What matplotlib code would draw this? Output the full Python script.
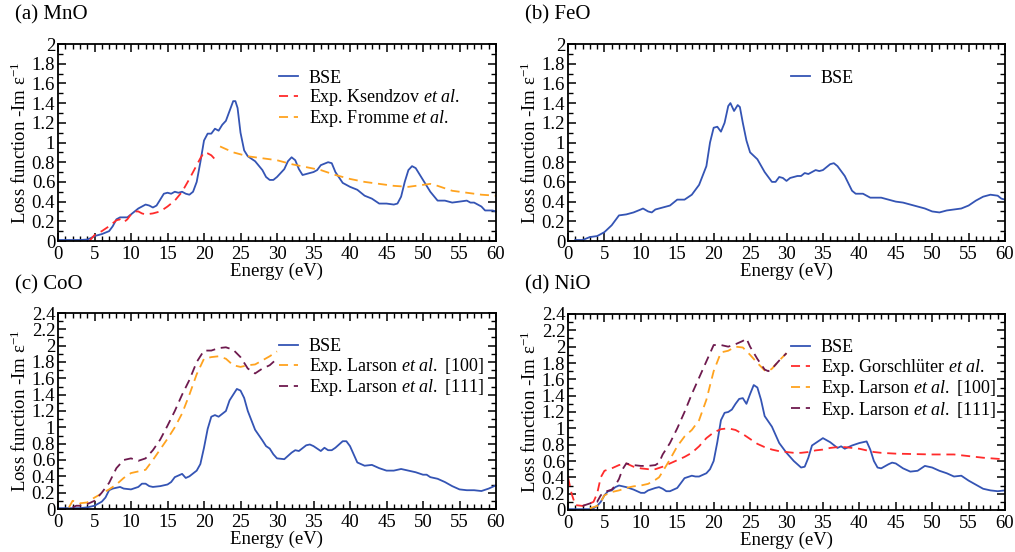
import matplotlib
matplotlib.use("Agg")
import matplotlib.pyplot as plt
from matplotlib.ticker import MultipleLocator, FuncFormatter

plt.rcParams['font.family'] = ['Liberation Serif', 'DejaVu Serif']
plt.rcParams['mathtext.fontset'] = 'custom'
plt.rcParams['mathtext.rm'] = 'Liberation Serif'
plt.rcParams['mathtext.it'] = 'Liberation Serif:italic'

# ---------------- data ----------------
# (a) MnO
mno_bse_e = [0, 1, 2, 3, 4, 4.5, 5, 6, 7, 7.5, 8, 8.5, 9, 9.5, 10, 11, 12, 12.5, 13, 13.5, 14, 14.5, 15,
             15.5, 16, 16.5, 17, 17.5, 18, 18.5, 19, 19.5, 20, 20.5, 21, 21.5, 22, 22.5, 23, 23.5, 24, 24.3,
             24.6, 25, 25.5, 26, 27, 28, 28.5, 29, 29.5, 30, 31, 31.5, 32, 32.5, 33, 33.5, 34, 35, 35.5, 36,
             37, 37.5, 38, 39, 40, 41, 42, 43, 44, 45, 46, 46.5, 47, 47.5, 48, 48.5, 49, 50, 51, 52, 53, 54,
             55, 56, 56.5, 57, 58, 58.5, 59, 59.5, 60]
mno_bse_l = [0.01, 0.01, 0.01, 0.01, 0.015, 0.03, 0.05, 0.07, 0.1, 0.15, 0.22, 0.24, 0.24, 0.24, 0.27, 0.33,
             0.37, 0.36, 0.34, 0.36, 0.42, 0.48, 0.49, 0.48, 0.50, 0.49, 0.50, 0.48, 0.47, 0.50, 0.60, 0.80,
             1.02, 1.09, 1.09, 1.14, 1.12, 1.18, 1.22, 1.32, 1.42, 1.42, 1.35, 1.10, 0.92, 0.86, 0.81, 0.72,
             0.65, 0.62, 0.62, 0.65, 0.73, 0.81, 0.85, 0.82, 0.73, 0.67, 0.68, 0.70, 0.72, 0.77, 0.80, 0.79,
             0.70, 0.59, 0.55, 0.52, 0.46, 0.43, 0.38, 0.38, 0.37, 0.38, 0.45, 0.60, 0.72, 0.76, 0.74, 0.62,
             0.50, 0.41, 0.41, 0.39, 0.40, 0.41, 0.39, 0.39, 0.35, 0.31, 0.31, 0.31, 0.30]
mno_ksen_e = [4.3, 5, 6, 7, 8, 8.5, 9, 9.5, 10, 10.5, 11, 11.5, 12, 13, 14, 15, 16, 17, 18, 19, 19.5, 20,
              20.5, 21, 21.5, 22]
mno_ksen_l = [0.0, 0.06, 0.10, 0.15, 0.21, 0.22, 0.19, 0.22, 0.27, 0.30, 0.30, 0.28, 0.27, 0.28, 0.30, 0.35,
              0.41, 0.50, 0.63, 0.77, 0.84, 0.90, 0.89, 0.87, 0.83, 0.80]
mno_from_e = [22.2, 24, 26, 28, 30, 32, 34, 36, 38, 40, 42, 44, 46, 48, 49, 50, 51, 52, 54, 56, 58, 60]
mno_from_l = [0.96, 0.90, 0.86, 0.84, 0.82, 0.78, 0.75, 0.72, 0.67, 0.63, 0.60, 0.58, 0.56, 0.55, 0.56, 0.57,
              0.58, 0.56, 0.51, 0.49, 0.47, 0.46]

# (b) FeO
feo_bse_e = [1, 2, 3, 4, 5, 6, 7, 8, 9, 10, 10.3, 11, 11.5, 12, 13, 14, 15, 16, 17, 18, 19, 19.5, 20, 20.5,
             21, 21.5, 22, 22.3, 22.8, 23.3, 23.6, 24, 24.5, 25, 26, 27, 28, 28.5, 29, 29.5, 30, 30.5, 31,
             31.5, 32, 32.5, 33, 34, 34.5, 35, 35.5, 36, 36.5, 37, 38, 39, 39.5, 40, 40.5, 41, 41.5, 43, 44,
             45, 46, 47, 48, 49, 50, 51, 52, 53, 54, 55, 56, 57, 58, 59, 59.5, 60]
feo_bse_l = [0.01, 0.01, 0.04, 0.05, 0.09, 0.16, 0.26, 0.27, 0.29, 0.32, 0.33, 0.30, 0.29, 0.32, 0.34, 0.36,
             0.42, 0.42, 0.47, 0.57, 0.76, 1.00, 1.15, 1.16, 1.11, 1.20, 1.37, 1.40, 1.32, 1.38, 1.36, 1.20,
             1.02, 0.90, 0.83, 0.70, 0.60, 0.60, 0.65, 0.64, 0.61, 0.64, 0.65, 0.66, 0.66, 0.69, 0.68, 0.72,
             0.71, 0.72, 0.75, 0.78, 0.79, 0.76, 0.66, 0.51, 0.48, 0.48, 0.48, 0.46, 0.44, 0.44, 0.42, 0.40,
             0.39, 0.37, 0.35, 0.33, 0.30, 0.29, 0.31, 0.32, 0.33, 0.36, 0.41, 0.45, 0.47, 0.46, 0.43, 0.42]

# (c) CoO
coo_bse_e = [0, 1, 2, 3, 4, 5, 6, 6.5, 7, 7.5, 8, 8.5, 9, 10, 11, 11.5, 12, 12.5, 13, 14, 15, 15.5, 16, 16.5,
             17, 17.5, 18, 19, 19.5, 20, 20.5, 21, 21.5, 22, 23, 23.5, 24, 24.5, 25, 25.5, 26, 27, 28, 28.5,
             29, 29.5, 30, 31, 32, 32.5, 33, 34, 34.5, 35, 36, 36.5, 37, 37.5, 38, 39, 39.5, 40, 40.5, 41, 42,
             43, 44, 45, 46, 47, 48, 49, 50, 50.5, 51, 52, 53, 54, 55, 56, 57, 58, 59, 60]
coo_bse_l = [0.01, 0.01, 0.01, 0.01, 0.02, 0.04, 0.09, 0.14, 0.23, 0.25, 0.26, 0.27, 0.25, 0.24, 0.27, 0.31,
             0.31, 0.28, 0.27, 0.28, 0.30, 0.33, 0.39, 0.41, 0.43, 0.38, 0.40, 0.47, 0.55, 0.75, 0.98, 1.13,
             1.15, 1.13, 1.20, 1.33, 1.40, 1.47, 1.45, 1.36, 1.20, 0.97, 0.84, 0.77, 0.74, 0.67, 0.62, 0.61,
             0.69, 0.72, 0.71, 0.78, 0.79, 0.77, 0.71, 0.75, 0.72, 0.72, 0.75, 0.83, 0.83, 0.77, 0.67, 0.57,
             0.53, 0.54, 0.50, 0.47, 0.47, 0.49, 0.47, 0.45, 0.42, 0.42, 0.39, 0.37, 0.33, 0.28, 0.24, 0.23,
             0.23, 0.22, 0.25, 0.29]
coo_l100_e = [1.5, 2, 2.5, 3, 4, 5, 6, 7, 8, 9, 10, 11, 12, 13, 14, 15, 16, 17, 18, 19, 20, 21, 22, 23, 24,
              25, 26, 27, 28, 29, 30]
coo_l100_l = [0.02, 0.10, 0.09, 0.07, 0.08, 0.14, 0.19, 0.24, 0.30, 0.38, 0.44, 0.46, 0.48, 0.60, 0.73, 0.86,
              1.00, 1.17, 1.40, 1.65, 1.84, 1.86, 1.87, 1.84, 1.76, 1.74, 1.76, 1.77, 1.82, 1.87, 1.93]
coo_l111_e = [2, 2.5, 3, 4, 5, 6, 7, 8, 9, 10, 11, 12, 13, 14, 15, 16, 17, 18, 19, 20, 21, 22, 23, 24, 25,
              26, 27, 28, 29, 30]
coo_l111_l = [0.02, 0.04, 0.04, 0.06, 0.10, 0.20, 0.32, 0.50, 0.60, 0.62, 0.59, 0.62, 0.72, 0.85, 1.02, 1.20,
              1.40, 1.58, 1.80, 1.94, 1.94, 1.97, 1.98, 1.95, 1.86, 1.72, 1.66, 1.72, 1.76, 1.84]

# (d) NiO
nio_bse_e = [0, 1, 2, 3, 3.5, 4, 4.5, 5, 5.5, 6, 6.5, 7, 8, 9, 10, 10.5, 11, 12, 12.5, 13, 13.5, 14, 15,
             15.5, 16, 17, 17.5, 18, 19, 19.5, 20, 20.5, 21, 21.5, 22, 22.5, 23, 23.5, 24, 24.5, 25, 25.5,
             26, 26.5, 27, 28, 29, 30, 31, 32, 32.5, 33, 33.5, 34, 35, 36, 37, 37.5, 38, 39, 40, 41, 41.5, 42,
             42.5, 43, 44, 44.5, 45, 46, 47, 48, 49, 50, 51, 52, 53, 54, 55, 56, 57, 58, 59, 60]
nio_bse_l = [0.01, 0.01, 0.01, 0.01, 0.02, 0.05, 0.10, 0.18, 0.23, 0.24, 0.28, 0.30, 0.28, 0.25, 0.21, 0.21,
             0.24, 0.27, 0.28, 0.26, 0.23, 0.23, 0.27, 0.33, 0.39, 0.42, 0.41, 0.41, 0.45, 0.50, 0.60, 0.83,
             1.10, 1.19, 1.20, 1.23, 1.30, 1.36, 1.37, 1.30, 1.42, 1.53, 1.50, 1.35, 1.15, 1.02, 0.82, 0.70,
             0.60, 0.52, 0.53, 0.64, 0.79, 0.82, 0.88, 0.83, 0.76, 0.78, 0.75, 0.79, 0.82, 0.84, 0.74, 0.60,
             0.52, 0.51, 0.56, 0.58, 0.57, 0.51, 0.47, 0.48, 0.54, 0.52, 0.48, 0.45, 0.41, 0.42, 0.36, 0.31,
             0.26, 0.24, 0.23, 0.24]
nio_gor_e = [0, 0.5, 1, 2, 3, 3.5, 4, 4.5, 5, 6, 7, 8, 9, 10, 11, 12, 13, 14, 15, 16, 17, 18, 19, 20, 21, 22,
             23, 24, 25, 26, 27, 28, 29, 30, 31, 32, 33, 34, 35, 36, 37, 38, 39, 40, 41, 42, 43, 45, 50, 53,
             55, 57, 60]
nio_gor_l = [0.40, 0.20, 0.06, 0.05, 0.08, 0.10, 0.20, 0.40, 0.48, 0.51, 0.55, 0.57, 0.53, 0.51, 0.50, 0.50,
             0.53, 0.57, 0.61, 0.65, 0.70, 0.78, 0.88, 0.95, 0.99, 1.00, 0.98, 0.93, 0.87, 0.81, 0.77, 0.74,
             0.72, 0.71, 0.70, 0.70, 0.71, 0.73, 0.74, 0.76, 0.77, 0.77, 0.76, 0.75, 0.73, 0.71, 0.70, 0.69,
             0.68, 0.68, 0.66, 0.64, 0.62]
nio_l100_e = [3, 4, 4.5, 5, 6, 7, 8, 9, 10, 11, 12, 12.5, 13, 14, 15, 16, 17, 18, 19, 20, 21, 22, 23, 24,
              25, 26, 27, 27.5, 28, 29, 30]
nio_l100_l = [0.02, 0.05, 0.10, 0.18, 0.22, 0.24, 0.27, 0.29, 0.30, 0.32, 0.37, 0.40, 0.47, 0.62, 0.78, 0.90,
              0.98, 1.10, 1.35, 1.70, 1.93, 1.95, 2.00, 1.99, 1.90, 1.80, 1.71, 1.70, 1.73, 1.83, 1.92]
nio_l111_e = [2, 3, 4, 4.5, 5, 6, 6.5, 7, 7.5, 8, 9, 10, 11, 12, 12.5, 13, 14, 15, 16, 17, 18, 19, 20, 21,
              22, 23, 24, 24.5, 25, 26, 27, 27.5, 28, 29, 30]
nio_l111_l = [0.05, 0.08, 0.10, 0.18, 0.22, 0.25, 0.30, 0.38, 0.50, 0.57, 0.55, 0.54, 0.54, 0.55, 0.58, 0.68,
              0.82, 1.00, 1.20, 1.42, 1.62, 1.82, 2.02, 2.02, 2.00, 2.03, 2.07, 2.10, 2.00, 1.85, 1.72, 1.70,
              1.73, 1.83, 1.92]

BLUE = '#3454b4'
RED = '#ff2b2b'
ORANGE = '#ffa31f'
PURPLE = '#6e1a4e'

fig = plt.figure(figsize=(10.15, 5.52), dpi=100)

W, H = 1015, 552
def add_ax(l, r, t, b):
    return fig.add_axes([l / W, (H - b) / H, (r - l) / W, (b - t) / H])

axa = add_ax(58, 496, 44, 241)
axb = add_ax(568, 1005, 44, 241)
axc = add_ax(58, 496, 313, 509)
axd = add_ax(568, 1005, 314, 510)

fmt = FuncFormatter(lambda v, p: ('%g' % round(v, 3)))
dash = (0, (5, 3.2))

def style(ax, ymax):
    ax.set_xlim(0, 60)
    ax.set_ylim(0, ymax)
    ax.xaxis.set_major_locator(MultipleLocator(5))
    ax.xaxis.set_minor_locator(MultipleLocator(1))
    ax.yaxis.set_major_locator(MultipleLocator(0.2))
    ax.yaxis.set_minor_locator(MultipleLocator(0.1))
    ax.yaxis.set_major_formatter(fmt)
    ax.xaxis.set_major_formatter(fmt)
    ax.tick_params(which='both', direction='in', top=True, right=True, labelsize=13.5)
    ax.tick_params(axis='x', pad=3.5)
    ax.tick_params(axis='y', pad=2)
    ax.tick_params(which='major', length=6, width=1.1)
    ax.tick_params(which='minor', length=3.5, width=1.0)
    for s in ax.spines.values():
        s.set_linewidth(1.3)
    ax.set_xlabel('Energy (eV)', fontsize=13.5, labelpad=0)
    ax.set_ylabel('Loss function -Im ε$^{-1}$', fontsize=13.5, labelpad=1)

def legend(ax, x, y):
    ax.legend(loc='upper left', bbox_to_anchor=(x, y), frameon=False, fontsize=13,
              handlelength=1.05, handletextpad=0.6, labelspacing=0.02, borderpad=0, borderaxespad=0)

lw = 1.3
# (a)
axa.plot(mno_bse_e, mno_bse_l, color=BLUE, lw=lw, label='BSE')
axa.plot(mno_ksen_e, mno_ksen_l, color=RED, lw=lw, ls=dash, label=r'Exp. Ksendzov $\mathit{et\ al.}$')
axa.plot(mno_from_e, mno_from_l, color=ORANGE, lw=lw, ls=dash, label=r'Exp. Fromme $\mathit{et\ al.}$')
style(axa, 2.0)
legend(axa, 0.505, 0.87)

# (b)
axb.plot(feo_bse_e, feo_bse_l, color=BLUE, lw=lw, label='BSE')
style(axb, 2.0)
legend(axb, 0.51, 0.87)

# (c)
axc.plot(coo_bse_e, coo_bse_l, color=BLUE, lw=lw, label='BSE')
axc.plot(coo_l100_e, coo_l100_l, color=ORANGE, lw=lw, ls=dash, label=r'Exp. Larson $\mathit{et\ al.}$ [100]')
axc.plot(coo_l111_e, coo_l111_l, color=PURPLE, lw=lw, ls=dash, label=r'Exp. Larson $\mathit{et\ al.}$ [111]')
style(axc, 2.4)
legend(axc, 0.505, 0.87)

# (d)
axd.plot(nio_bse_e, nio_bse_l, color=BLUE, lw=lw, label='BSE')
axd.plot(nio_gor_e, nio_gor_l, color=RED, lw=lw, ls=dash, label=r'Exp. Gorschlüter $\mathit{et\ al.}$')
axd.plot(nio_l100_e, nio_l100_l, color=ORANGE, lw=lw, ls=dash, label=r'Exp. Larson $\mathit{et\ al.}$ [100]')
axd.plot(nio_l111_e, nio_l111_l, color=PURPLE, lw=lw, ls=dash, label=r'Exp. Larson $\mathit{et\ al.}$ [111]')
style(axd, 2.4)
legend(axd, 0.51, 0.87)

fig.text(15 / W, 1 - 15 / H, '(a) MnO', fontsize=15, va='center', ha='left')
fig.text(525 / W, 1 - 15 / H, '(b) FeO', fontsize=15, va='center', ha='left')
fig.text(15 / W, 1 - 285 / H, '(c) CoO', fontsize=15, va='center', ha='left')
fig.text(525 / W, 1 - 285 / H, '(d) NiO', fontsize=15, va='center', ha='left')

fig.savefig('out.png', dpi=100)
